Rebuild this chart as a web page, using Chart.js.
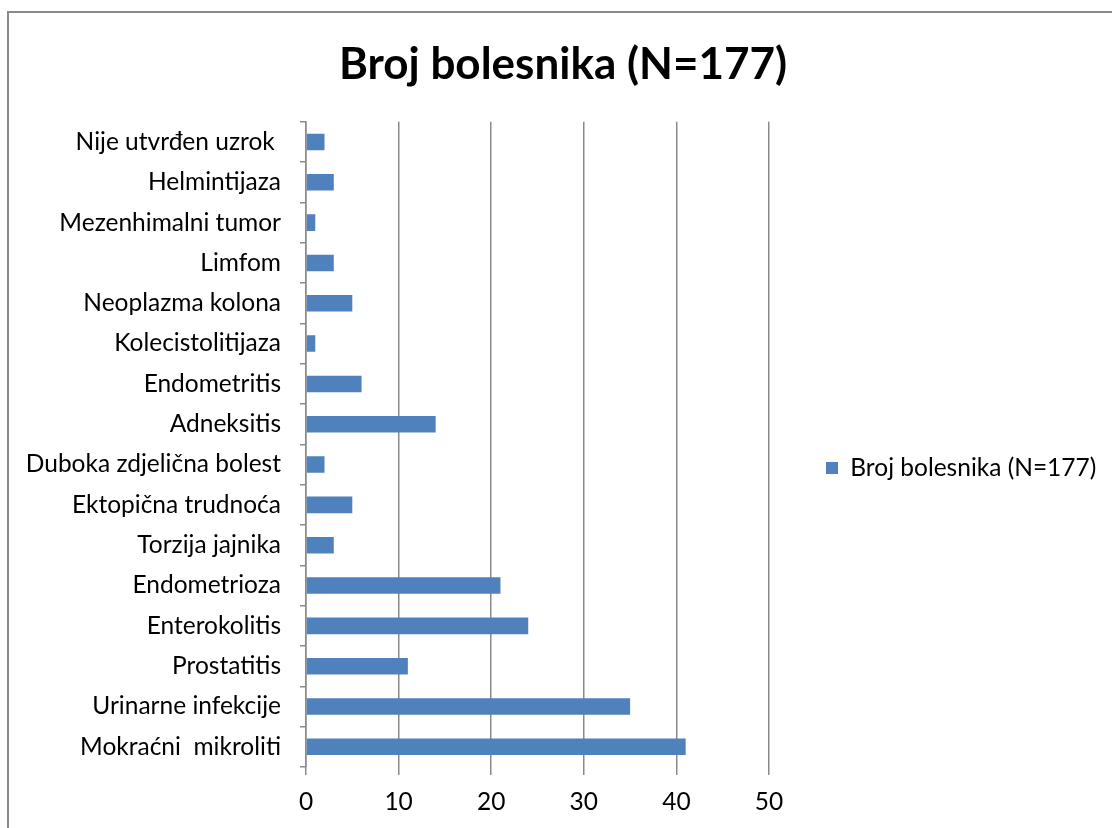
<!DOCTYPE html>
<html>
<head>
<meta charset="utf-8">
<script src="https://cdn.jsdelivr.net/npm/chart.js@4.4.0/dist/chart.umd.min.js"></script>
<style>
    body { margin: 0; background: #fff; overflow: hidden; }
    #frame { position: absolute; left: 7px; top: 11px; width: 1300px; height: 1000px; border-left: 2px solid #8a8a8a; border-top: 2px solid #8a8a8a; }
    #chart { position: absolute; left: 0; top: 0; }
</style>
</head>
<body>
<div id="frame"></div>
<canvas id="chart" width="1112" height="828"></canvas>
<script>
// categories, top to bottom as drawn
const categories = [
    "Nije utvrđen uzrok ",
    "Helmintijaza",
    "Mezenhimalni tumor",
    "Limfom",
    "Neoplazma kolona",
    "Kolecistolitijaza",
    "Endometritis",
    "Adneksitis",
    "Duboka zdjelična bolest",
    "Ektopična trudnoća",
    "Torzija jajnika",
    "Endometrioza",
    "Enterokolitis",
    "Prostatitis",
    "Urinarne infekcije",
    "Mokraćni  mikroliti"
];
const patients = [2, 3, 1, 3, 5, 1, 6, 14, 2, 5, 3, 21, 24, 11, 35, 41];
const seriesLabel = "Broj bolesnika (N=177)";
const xTicks = [0, 10, 20, 30, 40, 50];

const fontFamily = "Lato, 'Open Sans', sans-serif";
const gridColor = '#8a8a8a';

// legend box is wider than chart.js allows by default (half of the width / number of side boxes)
const legendWidthPlugin = {
    id: 'legendWidth',
    beforeLayout(chart) {
        const legend = chart.legend;
        if (!legend || legend._widthPatched) return;
        const fit = legend.fit.bind(legend);
        legend.fit = () => {
            fit();
            legend.width = 335;
        };
        legend._widthPatched = true;
    }
};

document.addEventListener("DOMContentLoaded", () => {
    const ctx = document.getElementById('chart').getContext('2d');
    new Chart(ctx, {
        type: 'bar',
        data: {
            labels: categories,
            datasets: [{
                label: seriesLabel,
                data: patients,
                backgroundColor: '#4f81bd',
                borderWidth: 0,
                barPercentage: 0.41,
                categoryPercentage: 1
            }]
        },
        plugins: [legendWidthPlugin],
        options: {
            indexAxis: 'y',
            responsive: false,
            animation: false,
            layout: { padding: { left: 22, right: 8, top: 0, bottom: 0 } },
            plugins: {
                title: {
                    display: true,
                    text: seriesLabel,
                    color: '#000',
                    font: { family: fontFamily, size: 44, weight: 'bold' },
                    padding: { top: 38, bottom: 31 }
                },
                legend: {
                    position: 'right',
                    fullSize: false,
                    title: { display: true, text: '', font: { size: 10 }, padding: { top: 35, bottom: 0 } },
                    labels: {
                        boxWidth: 12,
                        boxHeight: 12,
                        padding: 57,
                        color: '#000',
                        font: { family: fontFamily, size: 24.5 }
                    }
                },
                tooltip: { enabled: false }
            },
            scales: {
                x: {
                    min: 0,
                    max: 50,
                    afterBuildTicks: (scale) => {
                        scale.ticks = xTicks.map(v => ({ value: v }));
                    },
                    grid: { color: gridColor, lineWidth: 1.5, tickLength: 8 },
                    border: { display: false },
                    ticks: {
                        color: '#000',
                        padding: 12,
                        font: { family: fontFamily, size: 24.5 }
                    },
                    afterFit: (scale) => {
                        // plot bottom at y=767
                        scale.height = 61;
                    }
                },
                y: {
                    grid: { drawOnChartArea: false, color: gridColor, lineWidth: 1.5, tickLength: 6 },
                    border: { color: gridColor, width: 1.5 },
                    ticks: {
                        color: '#000',
                        padding: 19,
                        autoSkip: false,
                        font: { family: fontFamily, size: 24.5 }
                    },
                    afterFit: (scale) => {
                        // plot left edge at x=306
                        scale.width = 284;
                    }
                }
            }
        }
    });
});
</script>
</body>
</html>
